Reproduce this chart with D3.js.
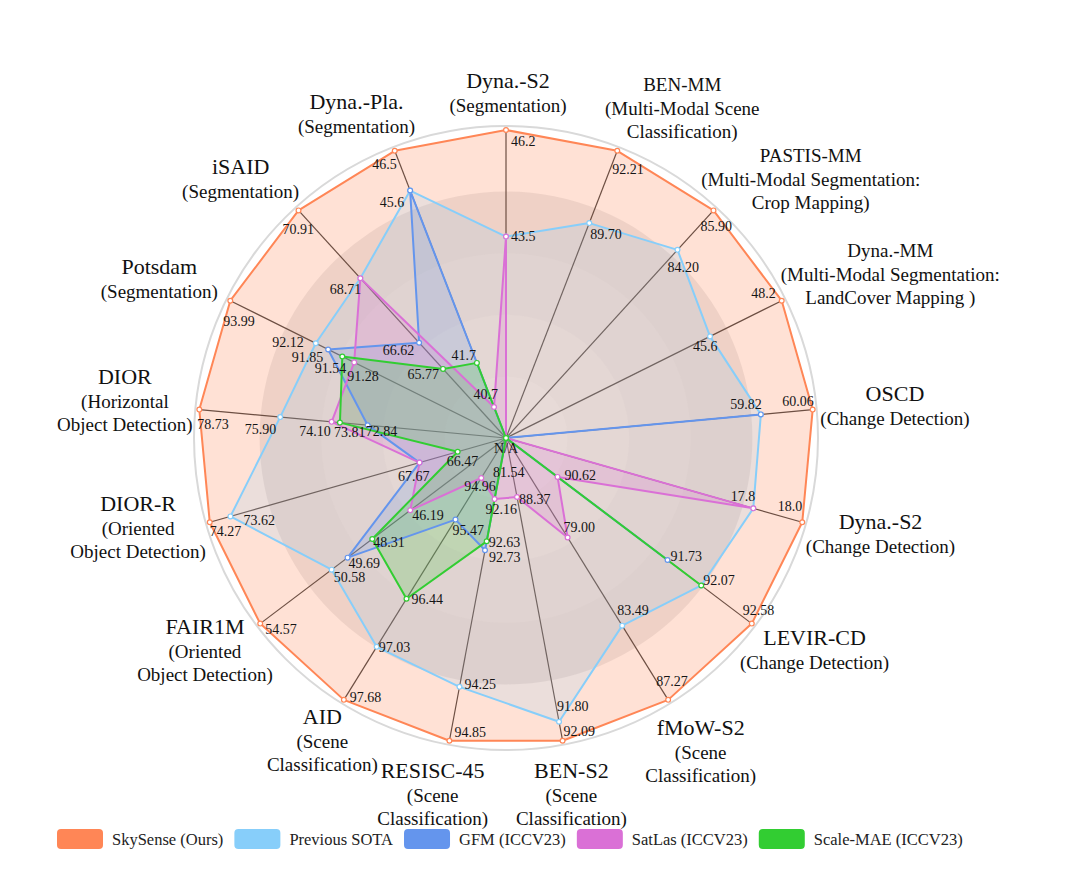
<!DOCTYPE html>
<html>
<head>
<meta charset="utf-8">
<script src="https://cdn.jsdelivr.net/npm/d3@7"></script>
<style>
  body { margin: 0; background: #fff; }
  text { font-family: "Liberation Serif", "Times New Roman", serif; }
</style>
</head>
<body>
<script>
const width = 1068;
const height = 880;
const cx = 506;
const cy = 438;
const radius = 308;
const titleGap = 322;

// axes, clockwise from the top
const axisTitles = ["Dyna.-S2", "BEN-MM", "PASTIS-MM", "Dyna.-MM", "OSCD", "Dyna.-S2", "LEVIR-CD",
  "fMoW-S2", "BEN-S2", "RESISC-45", "AID", "FAIR1M", "DIOR-R", "DIOR", "Potsdam", "iSAID", "Dyna.-Pla."];
const axisSubtitles = [
  ["(Segmentation)"],
  ["(Multi-Modal Scene", "Classification)"],
  ["(Multi-Modal Segmentation:", "Crop Mapping)"],
  ["(Multi-Modal Segmentation:", "LandCover Mapping )"],
  ["(Change Detection)"],
  ["(Change Detection)"],
  ["(Change Detection)"],
  ["(Scene", "Classification)"],
  ["(Scene", "Classification)"],
  ["(Scene", "Classification)"],
  ["(Scene", "Classification)"],
  ["(Oriented", "Object Detection)"],
  ["(Oriented", "Object Detection)"],
  ["(Horizontal", "Object Detection)"],
  ["(Segmentation)"],
  ["(Segmentation)"],
  ["(Segmentation)"]
];
const axisMin = [38.4, 82.24, 76.1, 38.2, 58.64, 16.79, 90.1, 73.93, 87.47, 91.48, 94.47, 40.84, 64.95, 68.0, 87.96, 63.53, 40.0];
const axisDecimals = [1, 2, 2, 1, 2, 1, 2, 2, 2, 2, 2, 2, 2, 2, 2, 2, 1];

// series values (null = N/A)
const skySense     = [46.2, 92.21, 85.90, 48.2, 60.06, 18.0, 92.58, 87.27, 92.09, 94.85, 97.68, 54.57, 74.27, 78.73, 93.99, 70.91, 46.5];
const previousSota = [43.5, 89.70, 84.20, 45.6, 59.82, 17.8, 92.07, 83.49, 91.80, 94.25, 97.03, 50.58, 73.62, 75.90, 92.12, 68.71, 45.6];
const gfm          = [null, null, null, null, 59.82, null, 91.73, null, 81.54, 92.73, 95.47, 49.69, 67.67, 72.84, 91.85, 66.62, 45.6];
const satLas       = [43.5, null, null, null, null, 17.8, 90.62, 79.00, 88.37, 92.16, 94.96, 46.19, 67.67, 74.10, 91.28, 68.71, 40.7];
const scaleMae     = [null, null, null, null, null, null, 92.07, null, null, 92.63, 96.44, 48.31, 66.47, 73.81, 91.54, 65.77, 41.7];

const seriesNames = ["SkySense (Ours)", "Previous SOTA", "GFM (ICCV23)", "SatLas (ICCV23)", "Scale-MAE (ICCV23)"];
const seriesValues = [skySense, previousSota, gfm, satLas, scaleMae];
const seriesColors = ["#ff8656", "#87cefa", "#6495ed", "#da70d6", "#32cd32"];
const fillOpacity = [0.25, 0.17, 0.2, 0.2, 0.2];

// label placement next to each point: [anchor, dx, dy]
const labelNudge = [
  [["start",5,16],["start",-5,23],["start",-13,21],["end",-6,-3],["end",1,-4],["end",0,-11],["start",-9,-9],
   ["start",-12,-14],["start",1,-5],["start",5,-4],["start",6,2],["start",5,10],["start",0,14],["start",-2,19],
   ["start",-7,25],["start",-16,24],["end",2,18]],
  [["start",5,4],["start",1,16],["start",-10,22],["start",-17,15],["end",1,-5],["end",2,-7],["start",2,0],
   ["start",-5,-11],["start",-2,-11],["start",5,2],["start",2,5],["start",2,12],["start",13,9],["end",-4,17],
   ["end",-12,4],["end",1,16],["end",-6,16]],
  [null,null,null,null,null,null,["start",3,1],null,["start",-13,39],["start",4,12],["start",-3,15],["start",1,10],
   ["end",10,18],["start",-2,11],["end",-5,13],["end",-5,12],null],
  [null,null,null,null,null,null,["start",7,3],["start",-4,-6],["start",2,7],["start",-9,15],["start",-17,13],
   ["start",2,10],null,["end",-1,14],["start",-7,19],null,["end",4,-8]],
  [null,null,null,null,null,null,null,null,null,["start",2,6],["start",5,5],["start",1,8],["start",-11,14],
   ["start",-6,14],["end",4,16],["end",-4,10],["end",-1,-3]]
];
const titleNudge = [[2,3],[32,5],[14,7],[-2,-3],[-6,1],[-7,3],[-8,5],[-4,11],[-4,6],[-4,6],[15,0],[10,-2],[7,-7],[7,-3],[-6,-3],[-9,-1],[-12,1]];

let svg, plot;
const n = axisTitles.length;
const angleOf = i => i * 2 * Math.PI / n;
const scales = axisMin.map((m, i) => d3.scaleLinear().domain([m, skySense[i]]).range([0, radius]).clamp(true));

function prepareVis() {
  svg = d3.select("body").append("svg")
    .attr("width", width)
    .attr("height", height);
  plot = svg.append("g").attr("transform", `translate(${cx},${cy})`);
}

function drawGrid() {
  // shaded rings, darker going out, outer band left clear
  const bandShade = [0.035, 0.06, 0.085, 0.11, 0];
  const arc = d3.arc().startAngle(0).endAngle(2 * Math.PI);
  bandShade.forEach((s, k) => {
    plot.append("path")
      .attr("d", arc({ innerRadius: radius * k / 5, outerRadius: radius * (k + 1) / 5 }))
      .attr("fill", `rgba(60,60,70,${s})`);
  });
  plot.append("circle").attr("r", radius + 4)
    .attr("fill", "none").attr("stroke", "#d9d9d9").attr("stroke-width", 2);

  plot.selectAll(".axis").data(axisTitles).enter()
    .append("line")
    .attr("x1", 0).attr("y1", 0)
    .attr("x2", (d, i) => radius * Math.sin(angleOf(i)))
    .attr("y2", (d, i) => -radius * Math.cos(angleOf(i)))
    .attr("stroke", "#3c3c3c")
    .attr("stroke-width", 1.2);
}

function radii(vals) {
  return vals.map((v, i) => v == null ? 0 : scales[i](v));
}

function drawSeries() {
  const line = d3.lineRadial()
    .angle((d, i) => angleOf(i))
    .radius(d => d)
    .curve(d3.curveLinearClosed);

  seriesValues.forEach((vals, s) => {
    plot.append("path")
      .attr("d", line(radii(vals)))
      .attr("fill", seriesColors[s])
      .attr("fill-opacity", fillOpacity[s])
      .attr("stroke", "none");
  });
  seriesValues.forEach((vals, s) => {
    plot.append("path")
      .attr("d", line(radii(vals)))
      .attr("fill", "none")
      .attr("stroke", seriesColors[s])
      .attr("stroke-width", 2)
      .attr("stroke-linejoin", "round");
  });
  seriesValues.forEach((vals, s) => {
    plot.selectAll(null).data(radii(vals)).enter()
      .append("circle")
      .attr("cx", (r, i) => r * Math.sin(angleOf(i)))
      .attr("cy", (r, i) => -r * Math.cos(angleOf(i)))
      .attr("r", 2.4)
      .attr("fill", "#fff")
      .attr("stroke", seriesColors[s])
      .attr("stroke-width", 1.2);
  });
}

function drawLabels() {
  const done = new Set();
  seriesValues.forEach((vals, s) => {
    vals.forEach((v, i) => {
      if (v == null) return;
      const key = i + ":" + v;
      if (done.has(key)) return;
      const nudge = labelNudge[s][i];
      if (!nudge) return;
      done.add(key);
      const r = scales[i](v);
      plot.append("text")
        .attr("x", r * Math.sin(angleOf(i)) + nudge[1])
        .attr("y", -r * Math.cos(angleOf(i)) + nudge[2])
        .attr("text-anchor", nudge[0])
        .attr("font-size", 14)
        .attr("fill", "#151515")
        .text(v.toFixed(axisDecimals[i]));
    });
  });
  plot.append("text")
    .attr("x", 0).attr("y", 15)
    .attr("text-anchor", "middle")
    .attr("font-size", 14)
    .attr("fill", "#151515")
    .text("N/A");
}

function drawTitles() {
  axisTitles.forEach((t, i) => {
    const a = angleOf(i);
    const ux = Math.sin(a), uy = -Math.cos(a);
    const g = svg.append("g");
    const txt = g.append("text").attr("text-anchor", "middle").attr("fill", "#111");
    txt.append("tspan").attr("x", 0).attr("y", 0)
      .attr("font-size", t.includes("MM") ? 19 : 22).text(t);
    axisSubtitles[i].forEach((sub, k) => {
      txt.append("tspan").attr("x", 0).attr("y", 24 + k * 23)
        .attr("font-size", 19).text(sub);
    });
    const b = txt.node().getBBox();
    const tx = cx + titleGap * ux + ux * b.width / 2 + titleNudge[i][0];
    const ty = cy + titleGap * uy + uy * b.height / 2 + titleNudge[i][1];
    g.attr("transform", `translate(${tx - (b.x + b.width / 2)},${ty - (b.y + b.height / 2) - 2})`);
  });
}

function drawLegend() {
  let lx = 57;
  seriesNames.forEach((name, i) => {
    svg.append("rect")
      .attr("x", lx).attr("y", 829)
      .attr("width", 46).attr("height", 20)
      .attr("rx", 4)
      .attr("fill", seriesColors[i]);
    const t = svg.append("text")
      .attr("x", lx + 55).attr("y", 845)
      .attr("font-size", 16.5)
      .attr("fill", "#222")
      .text(name);
    lx += 55 + t.node().getComputedTextLength() + 11;
  });
}

function runApp() {
  prepareVis();
  drawGrid();
  drawSeries();
  drawLabels();
  drawTitles();
  drawLegend();
}

runApp();
</script>
</body>
</html>
